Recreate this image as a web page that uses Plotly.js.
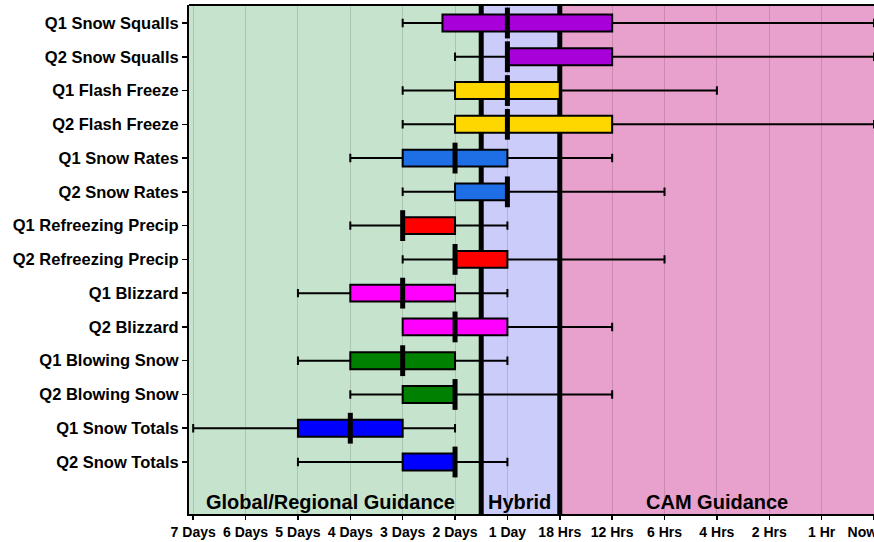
<!DOCTYPE html>
<html>
<head>
<meta charset="utf-8">
<script src="https://cdn.plot.ly/plotly-3.0.1.min.js"></script>
<style>html,body{margin:0;padding:0;background:#fff;}#chart{width:874px;height:542px;}</style>
</head>
<body>
<div id="chart"></div>
<script>
// Tick labels along the time axis (index 0..13)
const tickLabels = ["7 Days","6 Days","5 Days","4 Days","3 Days","2 Days","1 Day","18 Hrs","12 Hrs","6 Hrs","4 Hrs","2 Hrs","1 Hr","Now"];
// Rows, top to bottom
const categories = ["Q1 Snow Squalls","Q2 Snow Squalls","Q1 Flash Freeze","Q2 Flash Freeze","Q1 Snow Rates","Q2 Snow Rates","Q1 Refreezing Precip","Q2 Refreezing Precip","Q1 Blizzard","Q2 Blizzard","Q1 Blowing Snow","Q2 Blowing Snow","Q1 Snow Totals","Q2 Snow Totals"];
// Values in tick-index units (0 = 7 Days ... 13 = Now)
const lowerWhisker = [4, 5, 4, 4, 3, 4, 3, 4, 2, 4, 2, 3, 0, 2];
const boxStart     = [4.76, 6, 5, 5, 4, 5, 4, 5, 3, 4, 3, 4, 2, 4];
const medianVal    = [6, 6, 6, 6, 5, 6, 4, 5, 4, 5, 4, 5, 3, 5];
const boxEnd       = [8, 8, 7, 8, 6, 6, 5, 6, 5, 6, 5, 5, 4, 5];
const upperWhisker = [13, 13, 10, 13, 8, 9, 6, 9, 6, 8, 6, 8, 5, 6];
const rowColors = ["#a800d8","#a800d8","#ffd700","#ffd700","#1e6ee6","#1e6ee6","#ff0000","#ff0000","#ff00ff","#ff00ff","#008000","#008000","#0000ff","#0000ff"];
// Region bounds (tick-index units) and labels
const regionBounds = [[-0.2, 5.5], [5.5, 7], [7, 13.2]];
const regionColors = ["#c6e3cd", "#ccccfa", "#e8a0cc"];
const regionLabels = ["Global/Regional Guidance", "Hybrid", "CAM Guidance"];
const regionLabelX = [2.63, 6.23, 10.0];

const FONT = "Liberation Sans, Arial, Helvetica, sans-serif";

// keep the last label inside the page edge (pad it on the right)
const shownTickText = tickLabels.map((t, i) => i === tickLabels.length - 1 ? t + "\u00a0\u00a0\u00a0\u00a0\u00a0\u00a0" : t);

const traces = categories.map((c, i) => ({
  type: "box",
  orientation: "h",
  y: [c],
  q1: [boxStart[i]],
  median: [medianVal[i]],
  q3: [boxEnd[i]],
  lowerfence: [lowerWhisker[i]],
  upperfence: [upperWhisker[i]],
  fillcolor: rowColors[i],
  line: {color: "#000", width: 2},
  width: 0.5,
  whiskerwidth: 0.5,
  boxpoints: false,
  hoverinfo: "skip",
  showlegend: false
}));

traces.push({
  type: "scatter",
  mode: "markers",
  x: medianVal,
  y: categories,
  marker: {symbol: "line-ns", size: 22, color: "#000", line: {color: "#000", width: 5}},
  hoverinfo: "skip",
  showlegend: false
});

const shapes = regionBounds.map((b, i) => ({
  type: "rect", xref: "x", yref: "paper", x0: b[0], x1: b[1], y0: 0, y1: 1,
  fillcolor: regionColors[i], line: {width: 0}, layer: "below"
}));
[5.5, 7].forEach(v => shapes.push({
  type: "line", xref: "x", yref: "paper", x0: v, x1: v, y0: 0, y1: 1,
  line: {color: "#000", width: 5}, layer: "between"
}));
shapes.push({type: "line", xref: "paper", yref: "paper", x0: 0, x1: 1, y0: 1, y1: 1, line: {color: "#000", width: 2}, layer: "above"});

const annotations = regionLabels.map((t, i) => ({
  text: t, x: regionLabelX[i], y: 14.18, xref: "x", yref: "y",
  showarrow: false, font: {family: FONT, size: 20, color: "#000", weight: "bold"}
}));

const layout = {
  width: 874, height: 542,
  margin: {l: 189, r: 0, t: 5, b: 28},
  paper_bgcolor: "#fff",
  plot_bgcolor: "#fff",
  boxmode: "overlay",
  showlegend: false,
  xaxis: {
    range: [-0.08, 13.0],
    tickmode: "array",
    tickvals: tickLabels.map((_, i) => i),
    ticktext: shownTickText,
    ticks: "outside", ticklen: 4, tickcolor: "#000", tickwidth: 1.5,
    ticklabeloverflow: "allow",
    showgrid: true, gridcolor: "rgba(0,0,0,0.13)", gridwidth: 1,
    showline: true, linecolor: "#000", linewidth: 2, mirror: false,
    zeroline: false,
    tickfont: {family: FONT, size: 14, color: "#000", weight: "bold"}
  },
  yaxis: {
    type: "category",
    categoryorder: "array",
    categoryarray: categories,
    range: [14.54, -0.533],
    ticks: "outside", ticklen: 5, tickcolor: "#000", tickwidth: 1.5,
    showgrid: false,
    showline: true, linecolor: "#000", linewidth: 2,
    zeroline: false,
    tickfont: {family: FONT, size: 16.5, color: "#000", weight: "bold"}
  },
  shapes: shapes,
  annotations: annotations
};

Plotly.newPlot("chart", traces, layout, {displayModeBar: false, staticPlot: true});
</script>
</body>
</html>
